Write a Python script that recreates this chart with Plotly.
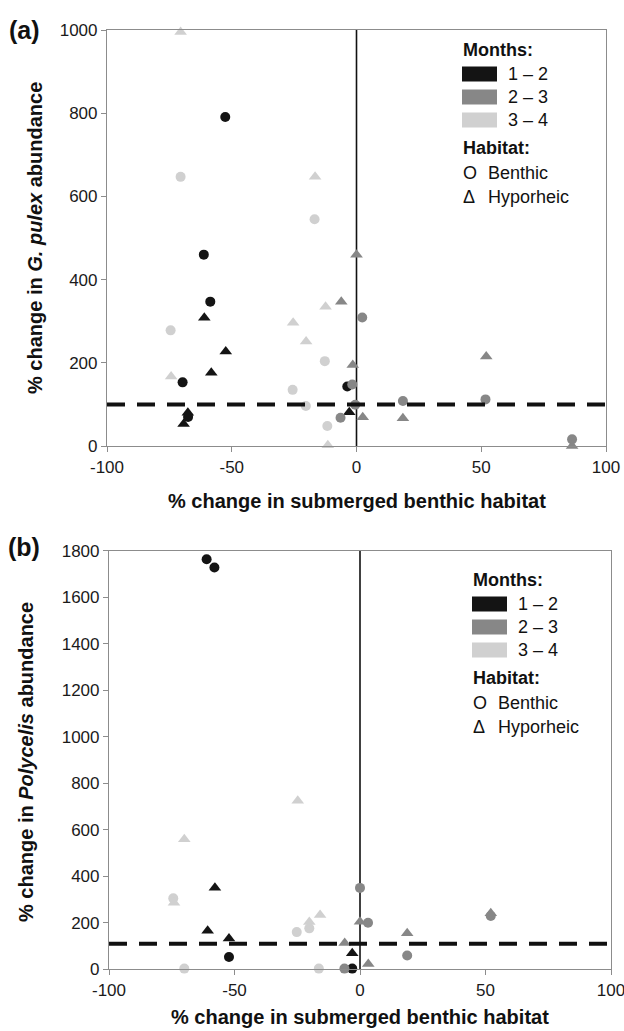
import plotly.graph_objects as go

W, H = 624, 1031
FONT = "Liberation Sans, Arial, Helvetica, sans-serif"

# ---------------- Data ----------------
month_labels = ["1 – 2", "2 – 3", "3 – 4"]
month_colors = ["#141414", "#878787", "#d0d0d0"]
habitat_labels = ["Benthic", "Hyporheic"]
habitat_glyphs = ["O", "Δ"]
x_ticks = [-100, -50, 0, 50, 100]
x_tick_text = ["-100", "-50", "0", "50", "100"]

# Panel (a): % change in G. pulex abundance
a_m12_benthic_x = [-52.6, -61.2, -58.6, -69.7, -3.7, -67.5]
a_m12_benthic_y = [791, 460, 347, 153, 143, 70]
a_m12_hypo_x = [-61.0, -52.4, -58.2, -69.3, -67.6, -2.9]
a_m12_hypo_y = [308, 227, 176, 53, 80, 81]
a_m23_benthic_x = [2.3, -1.7, -0.5, -6.4, 18.6, 51.7, 86.4]
a_m23_benthic_y = [309, 148, 99, 68, 108, 112, 16]
a_m23_hypo_x = [0.0, -6.1, -1.5, 2.5, 52.0, 18.6, 86.4]
a_m23_hypo_y = [460, 347, 195, 69, 215, 67, 0]
a_m34_benthic_x = [-70.5, -16.8, -74.5, -12.7, -25.6, -20.3, -11.7]
a_m34_benthic_y = [647, 545, 278, 204, 135, 96, 48]
a_m34_hypo_x = [-70.5, -16.6, -74.3, -12.4, -25.4, -20.2, -11.5]
a_m34_hypo_y = [995, 647, 167, 335, 296, 251, 2]
a_threshold = 100
a_yticks = [0, 200, 400, 600, 800, 1000]

# Panel (b): % change in Polycelis abundance
b_m12_benthic_x = [-61.1, -58.0, -52.2, -3.1]
b_m12_benthic_y = [1763, 1728, 53, 3]
b_m12_hypo_x = [-57.8, -60.7, -52.2, -3.1]
b_m12_hypo_y = [351, 166, 132, 69]
b_m23_benthic_x = [0.0, 3.2, 18.8, 52.1, -6.2]
b_m23_benthic_y = [350, 200, 59, 229, 3]
b_m23_hypo_x = [0.0, 18.8, 52.1, -6.1, 3.3]
b_m23_hypo_y = [205, 155, 241, 113, 23]
b_m34_benthic_x = [-74.4, -70.0, -25.2, -20.2, -16.4]
b_m34_benthic_y = [305, 3, 160, 176, 3]
b_m34_hypo_x = [-70.0, -24.8, -74.1, -20.2, -15.9]
b_m34_hypo_y = [559, 725, 286, 203, 233]
b_threshold = 110
b_yticks = [0, 200, 400, 600, 800, 1000, 1200, 1400, 1600, 1800]

panel_a = [
    (a_m12_benthic_x, a_m12_benthic_y, a_m12_hypo_x, a_m12_hypo_y),
    (a_m23_benthic_x, a_m23_benthic_y, a_m23_hypo_x, a_m23_hypo_y),
    (a_m34_benthic_x, a_m34_benthic_y, a_m34_hypo_x, a_m34_hypo_y),
]
panel_b = [
    (b_m12_benthic_x, b_m12_benthic_y, b_m12_hypo_x, b_m12_hypo_y),
    (b_m23_benthic_x, b_m23_benthic_y, b_m23_hypo_x, b_m23_hypo_y),
    (b_m34_benthic_x, b_m34_benthic_y, b_m34_hypo_x, b_m34_hypo_y),
]


def px(x):
    return x / W


def py(y):
    return 1 - y / H


fig = go.Figure()

for panel, xa, ya in [(panel_a, "x", "y"), (panel_b, "x2", "y2")]:
    for (bx, by, hx, hy), col, lab in zip(panel, month_colors, month_labels):
        fig.add_trace(go.Scatter(
            x=bx, y=by, mode="markers", xaxis=xa, yaxis=ya, cliponaxis=False,
            marker=dict(symbol="circle", size=10, color=col, line=dict(width=0)),
            name=f"{lab} Benthic", showlegend=False))
        fig.add_trace(go.Scatter(
            x=hx, y=hy, mode="markers", xaxis=xa, yaxis=ya, cliponaxis=False,
            marker=dict(symbol="triangle-up", size=11, color=col, line=dict(width=0)),
            name=f"{lab} Hyporheic", showlegend=False))

axis_common = dict(
    showline=True, linecolor="#8c8c8c", linewidth=1.2, mirror=True,
    ticks="outside", ticklen=5, tickcolor="#8c8c8c", tickwidth=1.2,
    showgrid=False, zeroline=False, automargin=False,
    ticklabeloverflow="allow",
    tickfont=dict(family=FONT, size=17, color="#1a1a1a"),
)

fig.update_layout(
    template="none",
    width=W, height=H,
    margin=dict(l=0, r=0, t=0, b=0, pad=0),
    paper_bgcolor="white", plot_bgcolor="white",
    showlegend=False,
    font=dict(family=FONT, color="#111111"),
    xaxis=dict(domain=[px(107), px(606)], anchor="y", range=[-100, 100],
               tickvals=x_ticks, ticktext=x_tick_text, **axis_common),
    yaxis=dict(domain=[py(446), py(30)], anchor="x", range=[0, 1000],
               tickvals=a_yticks, **axis_common),
    xaxis2=dict(domain=[px(109), px(611)], anchor="y2", range=[-100, 100],
                tickvals=x_ticks, ticktext=x_tick_text, **axis_common),
    yaxis2=dict(domain=[py(969.3), py(550.7)], anchor="x2", range=[0, 1800],
                tickvals=b_yticks, **axis_common),
)

shapes = []
for xr, yr, thr in [("x", "y", a_threshold), ("x2", "y2", b_threshold)]:
    shapes.append(dict(type="line", xref=xr, yref=f"{yr} domain", x0=0, x1=0, y0=0, y1=1,
                       line=dict(color="#111111", width=1.6), layer="below"))
    shapes.append(dict(type="line", xref=f"{xr} domain", yref=yr, x0=0, x1=1, y0=thr, y1=thr,
                       line=dict(color="#111111", width=4, dash="18px,12px"), layer="above"))

annotations = []


def text(x, y, t, size=18, xanchor="left", angle=0):
    annotations.append(dict(xref="paper", yref="paper", x=px(x), y=py(y), text=t,
                            showarrow=False, xanchor=xanchor, yanchor="middle",
                            textangle=angle,
                            font=dict(family=FONT, size=size, color="#111111")))


# legends
for lx, ly in [(462, 50), (472, 580)]:
    text(lx - 1, ly, "<b>Months:</b>")
    for i, (col, lab) in enumerate(zip(month_colors, month_labels)):
        cy = ly + 24 + i * 23
        shapes.append(dict(type="rect", xref="paper", yref="paper",
                           x0=px(lx), x1=px(lx + 35), y0=py(cy - 7.5), y1=py(cy + 7.5),
                           fillcolor=col, line=dict(width=0)))
        text(lx + 44, cy, lab)
    text(lx - 1, ly + 98, "<b>Habitat:</b>")
    for j, (g, lab) in enumerate(zip(habitat_glyphs, habitat_labels)):
        text(lx - 1, ly + 123 + j * 24, g)
        text(lx + 24, ly + 123 + j * 24, lab)

# axis titles
text((107 + 606) / 2, 501, "<b>% change in submerged benthic habitat</b>", size=20, xanchor="center")
text((109 + 611) / 2, 1017, "<b>% change in submerged benthic habitat</b>", size=20, xanchor="center")
text(35, 238, "<b>% change in <i>G. pulex</i> abundance</b>", size=20, xanchor="center", angle=-90)
text(26, 762, "<b>% change in <i>Polycelis</i> abundance</b>", size=20, xanchor="center", angle=-90)

# panel labels
text(7, 30, "<b>(a)</b>", size=25)
text(6, 547, "<b>(b)</b>", size=25)

fig.update_layout(shapes=shapes, annotations=annotations)

fig.write_html("out.html")
